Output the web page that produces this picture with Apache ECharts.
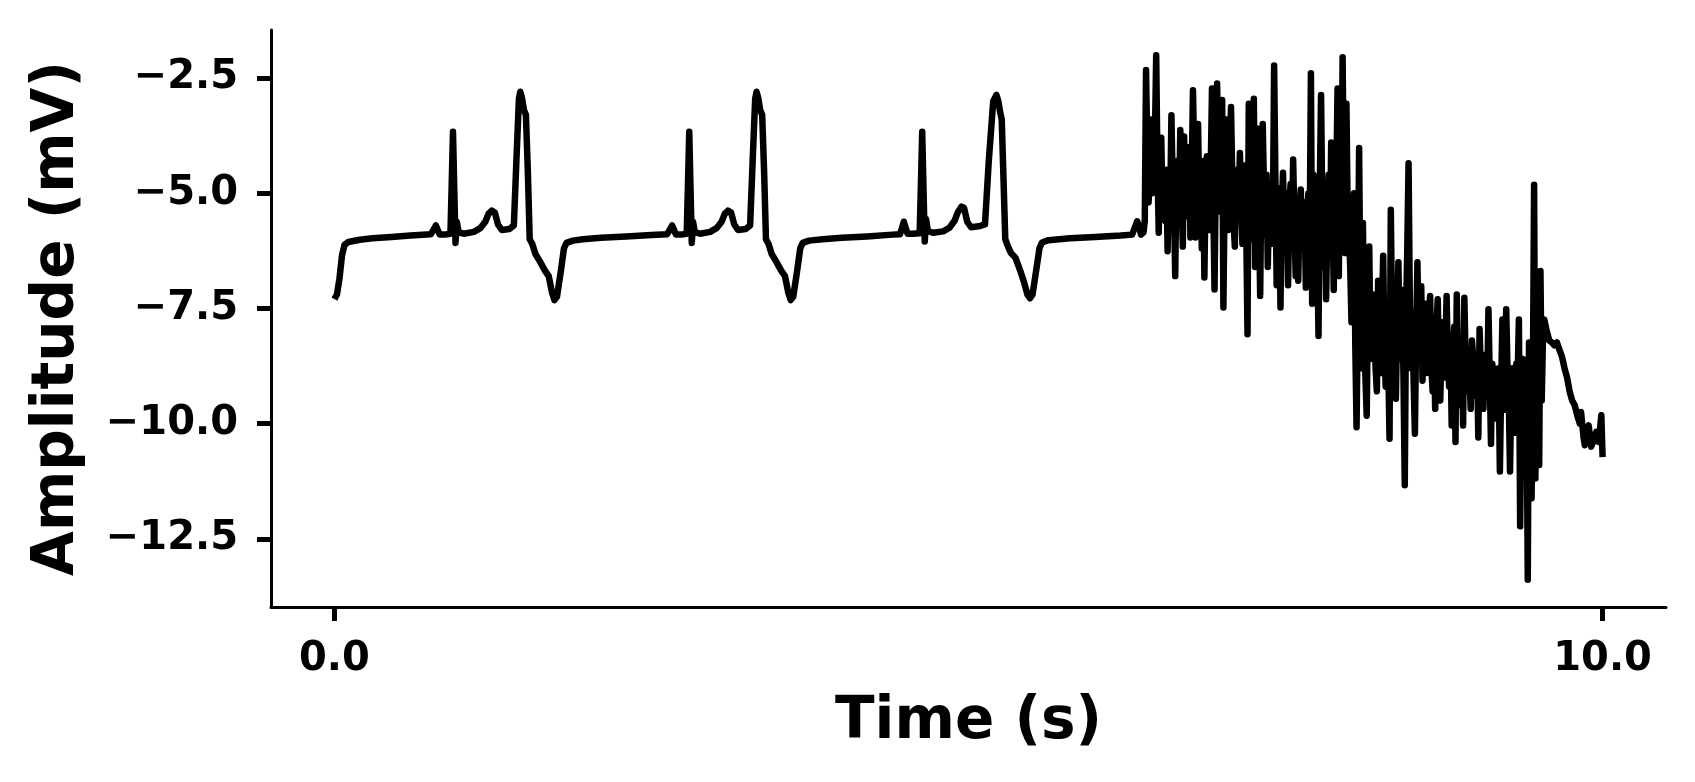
<!DOCTYPE html>
<html>
<head>
<meta charset="utf-8">
<script src="https://cdn.jsdelivr.net/npm/echarts@6/dist/echarts.min.js"></script>
<style>
  html, body { margin: 0; padding: 0; background: #fff; }
  #main { width: 1695px; height: 782px; }
</style>
</head>
<body>
<div id="main"></div>
<script>
// regular beats, 0 - 6.36 s
const beatTime = [
  0.000, 0.020, 0.040, 0.060, 0.080, 0.110, 0.200, 0.300, 0.450, 0.600,
  0.760, 0.785, 0.800, 0.815, 0.830, 0.870, 0.915, 0.925, 0.935, 0.945,
  0.955, 0.965, 0.980, 1.020, 1.100, 1.150, 1.190, 1.215, 1.240, 1.265,
  1.290, 1.320, 1.380, 1.415, 1.435, 1.455, 1.466, 1.480, 1.495, 1.510,
  1.525, 1.540, 1.560, 1.585, 1.620, 1.660, 1.690, 1.715, 1.735, 1.755,
  1.785, 1.810, 1.830, 1.880,
  1.960, 2.100, 2.300, 2.500, 2.623, 2.648, 2.663, 2.678, 2.693, 2.733,
  2.778, 2.788, 2.798, 2.808, 2.818, 2.828, 2.843, 2.883, 2.963, 3.013,
  3.053, 3.078, 3.103, 3.128, 3.153, 3.183, 3.243, 3.278, 3.298, 3.318,
  3.329, 3.343, 3.358, 3.373, 3.388, 3.403, 3.423, 3.448, 3.483, 3.523,
  3.553, 3.578, 3.598, 3.618, 3.648, 3.673, 3.693, 3.743,
  3.850, 4.000, 4.200, 4.400, 4.460, 4.475, 4.490, 4.505, 4.520, 4.560,
  4.615, 4.625, 4.635, 4.645, 4.655, 4.665, 4.680, 4.720, 4.800, 4.850,
  4.890, 4.915, 4.945, 4.965, 4.990, 5.020, 5.080, 5.130, 5.160, 5.195,
  5.220, 5.235, 5.250, 5.262, 5.275, 5.290, 5.310, 5.335, 5.370, 5.410,
  5.440, 5.465, 5.485, 5.505, 5.535, 5.560, 5.580, 5.630,
  5.800, 6.000, 6.200, 6.290, 6.315, 6.330, 6.345, 6.360
];
const beatMv = [
  -7.30, -7.20, -6.85, -6.35, -6.12, -6.06, -6.01, -5.98, -5.95, -5.92,
  -5.89, -5.78, -5.70, -5.80, -5.90, -5.90, -5.88, -4.80, -3.67, -4.90,
  -6.08, -5.62, -5.85, -5.88, -5.84, -5.76, -5.62, -5.45, -5.38, -5.42,
  -5.68, -5.80, -5.78, -5.70, -4.30, -2.95, -2.80, -2.95, -3.20, -3.30,
  -4.50, -6.00, -6.10, -6.32, -6.48, -6.68, -6.80, -7.15, -7.32, -7.25,
  -6.70, -6.20, -6.08, -6.03,
  -6.00, -5.97, -5.94, -5.91, -5.89, -5.78, -5.70, -5.80, -5.90, -5.90,
  -5.88, -4.80, -3.67, -4.90, -6.08, -5.62, -5.85, -5.88, -5.84, -5.76,
  -5.62, -5.45, -5.38, -5.42, -5.68, -5.80, -5.78, -5.70, -4.30, -2.95,
  -2.80, -2.95, -3.20, -3.30, -4.50, -6.00, -6.10, -6.32, -6.48, -6.68,
  -6.80, -7.15, -7.32, -7.25, -6.70, -6.20, -6.08, -6.03,
  -6.00, -5.97, -5.94, -5.90, -5.89, -5.76, -5.62, -5.76, -5.88, -5.88,
  -5.87, -4.80, -3.67, -4.90, -6.05, -5.56, -5.82, -5.86, -5.83, -5.75,
  -5.60, -5.42, -5.29, -5.32, -5.62, -5.74, -5.72, -5.68, -4.30, -3.00,
  -2.87, -3.00, -3.25, -3.40, -4.60, -6.00, -6.15, -6.30, -6.40, -6.70,
  -6.95, -7.20, -7.28, -7.20, -6.65, -6.19, -6.07, -6.02,
  -5.98, -5.95, -5.92, -5.90, -5.72, -5.61, -5.72, -5.90
];

// noisy artefact section, 6.38 - 9.54 s
const artTime = [
  6.38, 6.39, 6.40, 6.41, 6.42, 6.43, 6.44, 6.45, 6.46, 6.47,
  6.48, 6.49, 6.50, 6.51, 6.52, 6.53, 6.54, 6.55, 6.56, 6.57,
  6.58, 6.59, 6.60, 6.61, 6.62, 6.63, 6.64, 6.65, 6.66, 6.67,
  6.68, 6.69, 6.70, 6.71, 6.72, 6.73, 6.74, 6.75, 6.76, 6.77,
  6.78, 6.79, 6.80, 6.81, 6.82, 6.83, 6.84, 6.85, 6.86, 6.87,
  6.88, 6.89, 6.90, 6.91, 6.92, 6.93, 6.94, 6.95, 6.96, 6.97,
  6.98, 6.99, 7.00, 7.01, 7.02, 7.03, 7.04, 7.05, 7.06, 7.07,
  7.08, 7.09, 7.10, 7.11, 7.12, 7.13, 7.14, 7.15, 7.16, 7.17,
  7.18, 7.19, 7.20, 7.21, 7.22, 7.23, 7.24, 7.25, 7.26, 7.27,
  7.28, 7.29, 7.30, 7.31, 7.32, 7.33, 7.34, 7.35, 7.36, 7.37,
  7.38, 7.39, 7.40, 7.41, 7.42, 7.43, 7.44, 7.45, 7.46, 7.47,
  7.48, 7.49, 7.50, 7.51, 7.52, 7.53, 7.54, 7.55, 7.56, 7.57,
  7.58, 7.59, 7.60, 7.61, 7.62, 7.63, 7.64, 7.65, 7.66, 7.67,
  7.68, 7.69, 7.70, 7.71, 7.72, 7.73, 7.74, 7.75, 7.76, 7.77,
  7.78, 7.79, 7.80, 7.81, 7.82, 7.83, 7.84, 7.85, 7.86, 7.87,
  7.88, 7.89, 7.90, 7.91, 7.92, 7.93, 7.94, 7.95, 7.96, 7.97,
  7.98, 7.99, 8.00, 8.01, 8.02, 8.03, 8.04, 8.05, 8.06, 8.07,
  8.08, 8.09, 8.10, 8.11, 8.12, 8.13, 8.14, 8.15, 8.16, 8.17,
  8.18, 8.19, 8.20, 8.21, 8.22, 8.23, 8.24, 8.25, 8.26, 8.27,
  8.28, 8.29, 8.30, 8.31, 8.32, 8.33, 8.34, 8.35, 8.36, 8.37,
  8.38, 8.39, 8.40, 8.41, 8.42, 8.43, 8.44, 8.45, 8.46, 8.47,
  8.48, 8.49, 8.50, 8.51, 8.52, 8.53, 8.54, 8.55, 8.56, 8.57,
  8.58, 8.59, 8.60, 8.61, 8.62, 8.63, 8.64, 8.65, 8.66, 8.67,
  8.68, 8.69, 8.70, 8.71, 8.72, 8.73, 8.74, 8.75, 8.76, 8.77,
  8.78, 8.79, 8.80, 8.81, 8.82, 8.83, 8.84, 8.85, 8.86, 8.87,
  8.88, 8.89, 8.90, 8.91, 8.92, 8.93, 8.94, 8.95, 8.96, 8.97,
  8.98, 8.99, 9.00, 9.01, 9.02, 9.03, 9.04, 9.05, 9.06, 9.07,
  9.08, 9.09, 9.10, 9.11, 9.12, 9.13, 9.14, 9.15, 9.16, 9.17,
  9.18, 9.19, 9.20, 9.21, 9.22, 9.23, 9.24, 9.25, 9.26, 9.27,
  9.28, 9.29, 9.30, 9.31, 9.32, 9.33, 9.34, 9.35, 9.36, 9.37,
  9.38, 9.39, 9.40, 9.41, 9.42, 9.43, 9.44, 9.45, 9.46, 9.47,
  9.48, 9.49, 9.50, 9.51, 9.52, 9.53, 9.54
];
const artMv = [
  -5.85, -5.60, -2.33, -4.10, -5.20, -4.50, -3.40, -5.00, -4.60, -3.80,
  -2.01, -4.40, -5.86, -4.20, -3.80, -5.30, -4.90, -5.60, -4.49, -6.26,
  -4.70, -5.40, -3.31, -4.80, -5.20, -6.80, -4.60, -4.30, -5.50, -3.63,
  -5.10, -6.16, -3.77, -4.90, -5.50, -4.40, -4.00, -5.96, -4.60, -2.77,
  -4.20, -5.96, -4.70, -3.50, -5.30, -5.00, -6.20, -4.30, -6.83, -4.80,
  -4.20, -5.60, -5.80, -4.50, -2.73, -5.20, -7.09, -4.60, -2.62, -4.10,
  -5.40, -4.80, -2.98, -7.48, -4.90, -3.40, -5.10, -5.80, -4.40, -3.13,
  -4.70, -5.60, -6.16, -4.50, -4.60, -5.40, -4.13, -5.20, -6.10, -4.90,
  -4.40, -5.70, -8.06, -3.06, -4.80, -6.00, -4.20, -2.95, -6.60, -4.90,
  -3.60, -5.30, -7.23, -4.50, -3.50, -4.90, -5.90, -4.60, -6.60, -5.00,
  -4.80, -6.10, -5.50, -2.23, -4.70, -7.00, -5.10, -4.90, -7.48, -5.40,
  -4.56, -5.80, -6.20, -5.00, -7.00, -5.30, -4.80, -6.00, -4.27, -5.60,
  -6.80, -5.10, -6.90, -5.40, -4.92, -5.90, -6.00, -5.20, -7.05, -5.60,
  -5.00, -6.10, -2.40, -7.40, -4.60, -5.20, -4.70, -6.30, -8.10, -4.90,
  -2.87, -5.40, -6.60, -5.00, -7.30, -5.50, -4.60, -6.20, -3.90, -5.30,
  -7.10, -5.00, -4.80, -2.73, -6.80, -3.60, -5.40, -2.05, -5.00, -6.30,
  -3.06, -5.50, -5.90, -6.60, -7.80, -6.00, -5.00, -8.30, -10.08, -7.60,
  -4.02, -7.20, -8.80, -5.65, -8.10, -9.00, -9.83, -7.40, -6.16, -8.60,
  -8.40, -7.20, -7.50, -8.80, -9.30, -6.90, -8.20, -8.90, -7.60, -6.36,
  -8.40, -9.20, -7.40, -8.70, -10.33, -5.36, -7.80, -8.60, -7.30, -9.46,
  -7.80, -6.50, -8.60, -8.30, -7.10, -9.00, -11.34, -7.60, -6.20, -4.35,
  -7.40, -8.80, -7.60, -9.10, -10.22, -8.00, -6.50, -8.30, -8.40, -7.02,
  -9.07, -7.90, -7.40, -8.60, -8.90, -7.70, -7.23, -8.80, -9.30, -8.10,
  -9.68, -7.90, -7.30, -8.70, -9.50, -8.20, -7.80, -9.00, -8.40, -7.23,
  -8.60, -9.20, -8.10, -10.04, -8.40, -7.90, -10.40, -7.20, -8.80, -9.60,
  -8.30, -8.20, -10.04, -7.27, -8.70, -9.30, -8.40, -8.90, -9.68, -8.20,
  -8.60, -9.10, -9.40, -8.50, -10.30, -7.95, -8.90, -9.20, -9.68, -8.60,
  -8.50, -9.30, -7.52, -9.00, -10.44, -8.70, -8.90, -9.50, -8.82, -9.90,
  -8.80, -11.04, -9.20, -7.74, -8.90, -9.70, -7.52, -8.80, -9.40, -11.04,
  -9.30, -8.80, -9.60, -10.20, -8.70, -9.00, -7.74, -12.23, -9.40, -8.60,
  -10.40, -9.00, -9.10, -13.39, -8.24, -10.10, -11.62, -9.20, -4.82, -11.19,
  -8.80, -9.80, -10.90, -6.69, -9.50, -8.10, -7.74
];

// settling tail, 9.56 - 10 s
const tailTime = [
  9.56, 9.58, 9.60, 9.62, 9.64, 9.66, 9.68, 9.70, 9.72, 9.74,
  9.76, 9.78, 9.80, 9.82, 9.83, 9.85, 9.86, 9.88, 9.89, 9.91,
  9.92, 9.94, 9.95, 9.97, 9.99, 10.00
];
const tailMv = [
  -8.00, -8.20, -8.24, -8.30, -8.24, -8.40, -8.55, -8.80, -9.00, -9.30,
  -9.50, -9.60, -9.82, -10.00, -9.75, -10.30, -10.47, -10.10, -10.04, -10.50,
  -10.54, -10.30, -10.18, -10.40, -9.82, -10.73
];

const xTicks = [0, 10];
const yTicks = [-12.5, -10, -7.5, -5, -2.5];

function pairs(ts, vs) {
  return ts.map((t, i) => [t, vs[i]]);
}

const signal = pairs(beatTime, beatMv)
  .concat(pairs(artTime, artMv))
  .concat(pairs(tailTime, tailMv));

function fmt(v) {
  return (v < 0 ? '\u2212' : '') + Math.abs(v).toFixed(1);
}

const chart = echarts.init(document.getElementById('main'), null, { renderer: 'canvas' });

const font = 'DejaVu Sans';

chart.setOption({
  animation: false,
  backgroundColor: '#fff',
  grid: { left: 271, right: 29, top: 30, bottom: 175 },
  xAxis: {
    type: 'value',
    min: -0.5,
    max: 10.5,
    name: 'Time (s)',
    nameLocation: 'middle',
    nameGap: 87,
    nameTextStyle: { fontFamily: font, fontWeight: 'bold', fontSize: 58, color: '#000' },
    axisLine: { show: true, onZero: false, lineStyle: { color: '#000', width: 3 } },
    axisTick: { show: true, length: 14, lineStyle: { color: '#000', width: 5 }, customValues: xTicks },
    axisLabel: {
      customValues: xTicks,
      formatter: fmt,
      margin: 33,
      fontFamily: font, fontWeight: 'bold', fontSize: 40, color: '#000'
    },
    splitLine: { show: false }
  },
  yAxis: {
    type: 'value',
    min: -13.98,
    max: -1.46,
    name: 'Amplitude (mV)',
    nameLocation: 'middle',
    nameGap: 184,
    nameTextStyle: { fontFamily: font, fontWeight: 'bold', fontSize: 58, color: '#000' },
    axisLine: { show: true, onZero: false, lineStyle: { color: '#000', width: 3 } },
    axisTick: { show: true, length: 14, lineStyle: { color: '#000', width: 5 }, customValues: yTicks },
    axisLabel: {
      customValues: yTicks,
      formatter: fmt,
      margin: 33,
      fontFamily: font, fontWeight: 'bold', fontSize: 40, color: '#000'
    },
    splitLine: { show: false }
  },
  series: [
    {
      type: 'line',
      data: signal,
      showSymbol: false,
      symbol: 'none',
      sampling: null,
      lineStyle: { color: '#000', width: 6.5, join: 'round' },
      z: 3
    }
  ]
});
</script>
</body>
</html>
